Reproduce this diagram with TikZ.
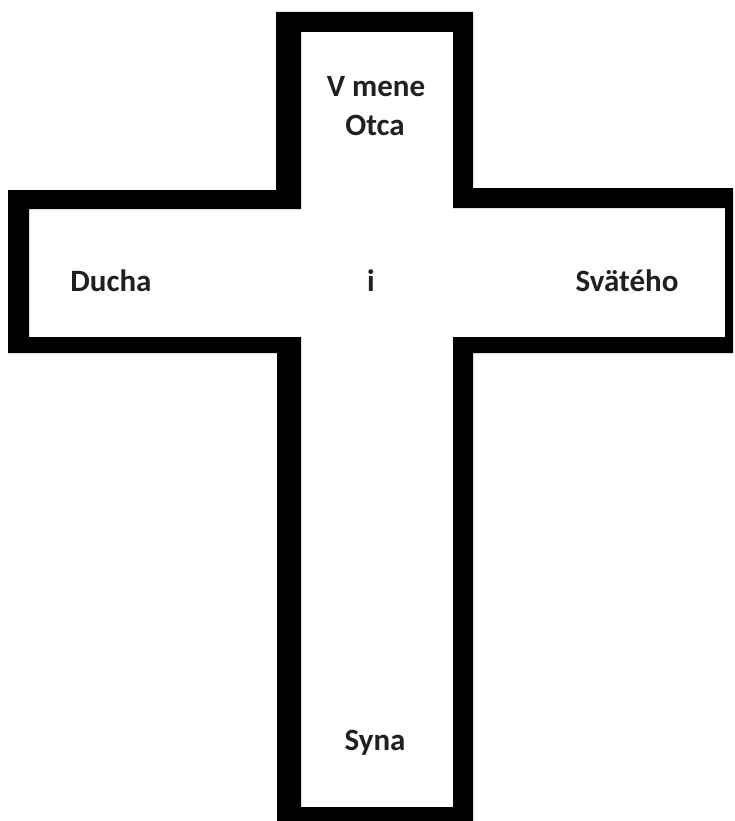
\documentclass[tikz,border=0pt]{standalone}
\usepackage{fontspec}
\setmainfont{Carlito}
\definecolor{txt}{HTML}{231F20}
\begin{document}
\begin{tikzpicture}[x=1pt,y=-1pt,
  lbl/.style={font=\bfseries\fontsize{31}{39}\selectfont, text=txt, anchor=base, inner sep=0pt, align=center}]
\useasboundingbox (0,0) rectangle (734,821);
\fill[white] (0,0) rectangle (734,821);
\fill[black, even odd rule]
  (276,12) -- (473,12) -- (473,188) -- (733,188) -- (733,353) -- (473,353) -- (473,821) -- (277,821) -- (277,353) -- (8,353) -- (8,190) -- (276,190) -- cycle
  (301,32) -- (453,32) -- (453,208) -- (725,208) -- (725,337) -- (453,337) -- (453,807) -- (301,807) -- (301,337) -- (29,337) -- (29,209) -- (301,209) -- cycle;
\node[lbl] (top1) at (376,97) {V mene};
\node[lbl] (top2) at (375,136) {Otca};
\node[lbl] (left) at (111,291) {Ducha};
\node[lbl] (mid) at (371,291) {i};
\node[lbl] (right) at (627,291) {Svätého};
\node[lbl] (bottom) at (375,750) {Syna};
\end{tikzpicture}
\end{document}
